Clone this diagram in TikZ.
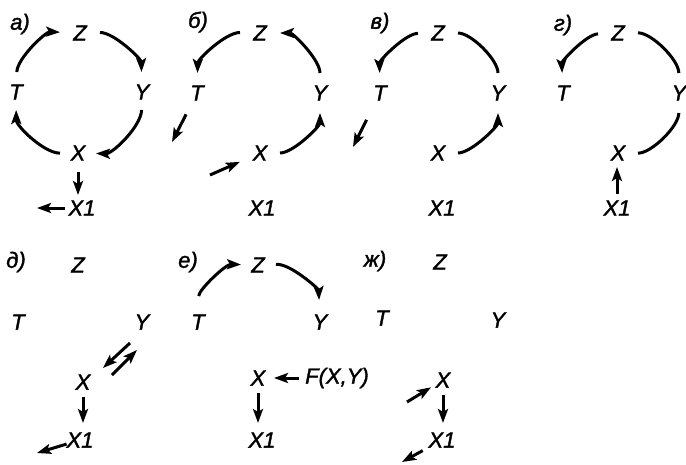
\documentclass[tikz,border=0pt]{standalone}
\usepackage{fontspec}
\setmainfont{Liberation Sans}[FakeBold=1.6]
\usetikzlibrary{arrows.meta}
\begin{document}
\begin{tikzpicture}[x=1pt,y=-1pt,
  v/.style={font=\fontsize{22}{22}\selectfont\itshape, inner sep=0pt},
  arr/.style={line width=3pt, -{Stealth[length=14pt,width=10pt,inset=3pt]}},
  ln/.style={line width=3pt},
  gap/.style={shorten <=#1, shorten >=#1},
  gap/.default=20pt
]
\useasboundingbox (0,0) rectangle (686,464);

% ---------- a)
\node[v] (aL) at (20,24) {а)};
\node[v] (aZ) at (80,33) {Z};
\node[v] (aT) at (16,92) {T};
\node[v] (aY) at (142,92) {Y};
\node[v] (aX) at (78,153) {X};
\node[v] (aX1) at (82,208) {X1};
\coordinate (ao) at (37,208);
\draw[arr,gap] (aT.center) to[bend left=45] (aZ.center);
\draw[arr,gap] (aZ.center) to[bend left=45] (aY.center);
\draw[arr,gap=18pt] (aY.center) to[bend left=45] (aX.center);
\draw[arr,gap=18pt] (aX.center) to[bend left=45] (aT.center);
\draw[arr,shorten <=19pt,shorten >=13pt] (aX.center) -- (aX.center |- aX1.center);
\draw[arr,shorten <=3pt] (aX1.west) -- (ao);

% ---------- b)
\node[v] (bL) at (198,22) {б)};
\node[v] (bZ) at (260,33) {Z};
\node[v] (bT) at (197,93) {T};
\node[v] (bY) at (320,93) {Y};
\node[v] (bX) at (260,153) {X};
\node[v] (bX1) at (262,208) {X1};
\coordinate (bo) at (172,142);
\coordinate (bi) at (210,175);
\draw[arr,gap] (bZ.center) to[bend right=45] (bT.center);
\draw[arr,gap] (bY.center) to[bend right=45] (bZ.center);
\draw[arr,gap] (bX.center) to[bend right=45] (bY.center);
\draw[arr,shorten <=24pt] (bT.center) -- (bo);
\draw[arr,shorten >=22pt] (bi) -- (bX.center);

% ---------- v)
\node[v] (cL) at (380,23) {в)};
\node[v] (cZ) at (438,33) {Z};
\node[v] (cT) at (380,93) {T};
\node[v] (cY) at (498,93) {Y};
\node[v] (cX) at (438,153) {X};
\node[v] (cX1) at (442,208) {X1};
\coordinate (co) at (353,147);
\draw[arr,gap] (cZ.center) to[bend right=45] (cT.center);
\draw[ln,gap] (cZ.center) to[bend left=45] (cY.center);
\draw[arr,gap] (cX.center) to[bend right=45] (cY.center);
\draw[arr,shorten <=30pt] (cT.center) -- (co);

% ---------- g)
\node[v] (dL) at (563,25) {г)};
\node[v] (dZ) at (618,33) {Z};
\node[v] (dT) at (563,93) {T};
\node[v] (dY) at (679,93) {Y};
\node[v] (dX) at (618,153) {X};
\node[v] (dX1) at (617,208) {X1};
\draw[arr,gap] (dZ.center) to[bend right=45] (dT.center);
\draw[ln,gap] (dZ.center) to[bend left=45] (dY.center);
\draw[ln,gap] (dY.center) to[bend left=45] (dX.center);
\draw[arr,shorten <=14pt,shorten >=14pt] (dX1.center) -- (dX1.center |- dX.center);

% ---------- d)
\node[v] (eL) at (16,262) {д)};
\node[v] (eZ) at (78,265) {Z};
\node[v] (eT) at (18,322) {T};
\node[v] (eY) at (142,322) {Y};
\node[v] (eX) at (83,382) {X};
\node[v] (eX1) at (80,440) {X1};
\coordinate (eo) at (37,453);
\draw[arr] ([shift={(-12,21)}]eY.center) -- ([shift={(20,-14)}]eX.center);
\draw[arr] ([shift={(29,-7)}]eX.center) -- ([shift={(-5,28)}]eY.center);
\draw[arr,shorten <=15pt,shorten >=17pt] (eX.center) -- (eX.center |- eX1.center);
\draw[arr,shorten <=14pt] (eX1.center) -- (eo);

% ---------- e)
\node[v] (fL) at (188,262) {е)};
\node[v] (fZ) at (258,265) {Z};
\node[v] (fT) at (198,322) {T};
\node[v] (fY) at (320,322) {Y};
\node[v] (fX) at (258,378) {X};
\node[v] (fX1) at (262,440) {X1};
\node[v] (fF) at (337,378) {F(X,Y)};
\draw[arr,shorten <=26pt,shorten >=17pt] (fT.center) to[bend left=45] (fZ.center);
\draw[arr,shorten <=18pt,shorten >=22pt] (fZ.center) to[bend left=45] (fY.center);
\draw[arr,shorten <=6pt,shorten >=16pt] (fF.west) -- (fX.center);
\draw[arr,shorten <=15pt,shorten >=17pt] (fX.center) -- (fX.center |- fX1.center);

% ---------- zh)
\node[v] (gL) at (375,261) {ж)};
\node[v] (gZ) at (440,262) {Z};
\node[v] (gT) at (382,318) {T};
\node[v] (gY) at (498,320) {Y};
\node[v] (gX) at (443,380) {X};
\node[v] (gX1) at (442,440) {X1};
\coordinate (gi) at (407,402);
\coordinate (go) at (402,462);
\draw[arr,shorten >=14pt] (gi) -- (gX.center);
\draw[arr,shorten <=15pt,shorten >=17pt] (gX.center) -- (gX.center |- gX1.center);
\draw[arr,shorten <=22pt] (gX1.center) -- (go);
\end{tikzpicture}
\end{document}
